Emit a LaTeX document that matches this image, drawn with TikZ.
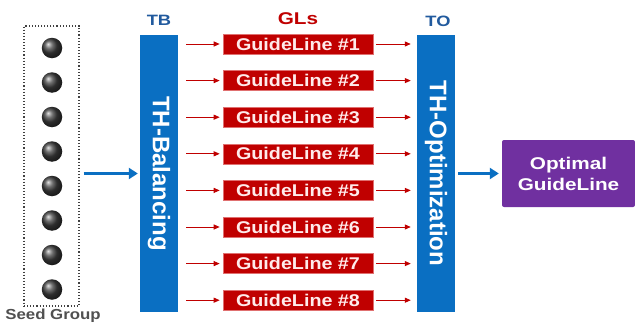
\documentclass[tikz,border=0pt]{standalone}
\usepackage{fontspec}
\setmainfont{Liberation Sans}
\newfontfamily\widefont{Liberation Sans}[FakeStretch=1.16]
\newfontfamily\widerfont{Liberation Sans}[FakeStretch=1.22]
\usetikzlibrary{arrows.meta,shadings}
\definecolor{barblue}{HTML}{0A6FC2}
\definecolor{tagblue}{HTML}{215A9E}
\definecolor{glred}{HTML}{C00000}
\definecolor{glborder}{HTML}{E07070}
\definecolor{optpurple}{HTML}{7030A0}
\definecolor{seedgray}{HTML}{505050}
\tikzset{
  seedbox/.style={draw=black!75, dotted, line width=1.1pt, minimum width=55pt, minimum height=280pt, inner sep=0pt},
  seed/.style={circle, shading=ball, ball color=black!75, minimum size=20.5pt, inner sep=0pt},
  barbox/.style={fill=barblue, minimum width=38pt, minimum height=277pt, inner sep=0pt},
  bartext/.style={rotate=-90, text=white, font=\bfseries\fontsize{24}{26}\selectfont, inner sep=0pt},
  glbox/.style={fill=glred, draw=glborder, line width=0.6pt, minimum width=150pt, minimum height=20pt, inner sep=0pt,
    text=white!92!red, font=\widefont\bfseries\fontsize{17}{19}\selectfont},
  optbox/.style={fill=optpurple, rounded corners=2pt, minimum width=133pt, minimum height=67pt, inner sep=0pt,
    text=white, align=center, font=\widerfont\bfseries\fontsize{17}{21}\selectfont},
  tag/.style={font=\widerfont\bfseries\fontsize{15}{17}\selectfont, inner sep=0pt},
  bluearrow/.style={draw=barblue, line width=2.6pt, -{Triangle[length=9pt,width=11pt]}},
  redarrow/.style={draw=glred, line width=1pt, -{Triangle[length=6pt,width=5pt]}}
}
\begin{document}
\begin{tikzpicture}[x=1pt,y=-1pt]
  \useasboundingbox (0,0) rectangle (635,324);
  \fill[white] (0,0) rectangle (635,324);

  % seed group
  \node[seedbox] (seedgrp) at (51.5,166) {};
  \foreach \i/\yy in {1/48,2/82.5,3/117,4/151.5,5/186,6/220.5,7/255,8/289.5}
    \node[seed] (s\i) at (52,\yy) {};
  \node[tag, text=seedgray, font=\widefont\bfseries\fontsize{14.5}{16}\selectfont] (seedlbl) at (53,316) {Seed Group};

  % balancing and optimization bars
  \node[barbox] (tb) at (159,173.5) {};
  \node[bartext] (tbtext) at (tb) {TH-Balancing};
  \node[tag, text=tagblue] (tblbl) at (159,20) {TB};

  \node[barbox] (to) at (436,173.5) {};
  \node[bartext] (totext) at (to) {TH-Optimization};
  \node[tag, text=tagblue] (tolbl) at (438,21) {TO};

  % guidelines
  \node[tag, text=glred, font=\widerfont\bfseries\fontsize{17}{19}\selectfont] (gls) at (298,19) {GLs};
  \foreach \i in {1,...,8} {
    \node[glbox] (g\i) at (298,{44+36.6*(\i-1)}) {GuideLine \#\i};
    \draw[redarrow, shorten <=8pt, shorten >=3pt] (tb.east |- g\i) -- (g\i.west);
    \draw[redarrow, shorten <=3pt, shorten >=6pt] (g\i.east) -- (to.west |- g\i);
  }

  % result
  \node[optbox] (opt) at (568.5,173.5) {Optimal\\GuideLine};

  \draw[bluearrow, shorten <=4pt, shorten >=2pt] (seedgrp.east |- tb) -- (tb.west);
  \draw[bluearrow, shorten <=3pt, shorten >=3pt] (to.east) -- (opt.west);
\end{tikzpicture}
\end{document}
